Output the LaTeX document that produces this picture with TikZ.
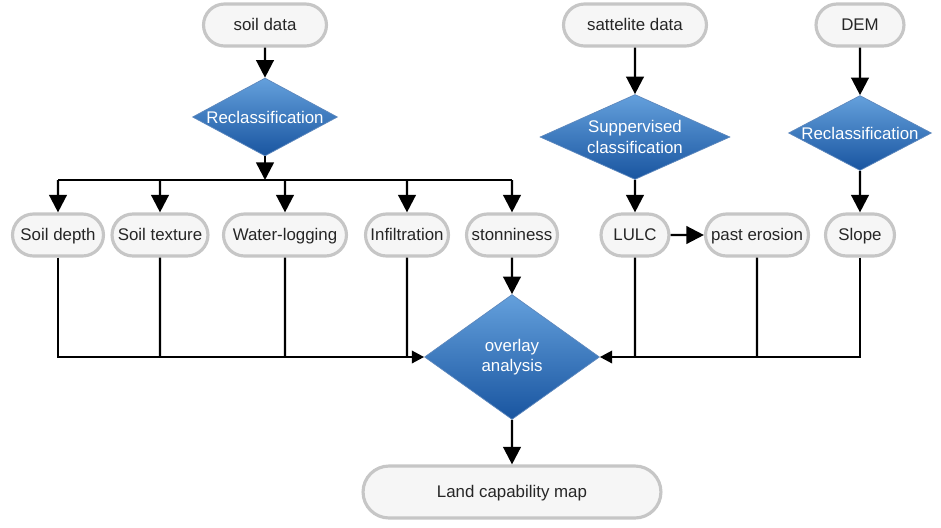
\documentclass[tikz,border=0pt]{standalone}
\usepackage{fontspec}
\setmainfont{Liberation Sans}
\usetikzlibrary{arrows.meta,shapes.geometric,shapes.misc,positioning}

\definecolor{decisiontop}{RGB}{100,160,220}
\definecolor{decisionbot}{RGB}{25,85,160}

\begin{document}
\begin{tikzpicture}[
    x = 0.02cm, y = -0.02cm, % one unit = one pixel of the layout
    > = {Triangle[length=10pt,width=10pt]}, % arrow head style
    line width = 1.4pt, % line style
    font = \fontsize{9.6}{11.5}\selectfont
    ]

    \tikzset{
    pill/.style = {rounded rectangle, draw = gray!45, line width = 1.8pt,
                   fill = gray!7, text = black!85, minimum height = 0.84cm, inner xsep = 2pt,
                   text height = 1.6ex, text depth = 0.45ex},
    decision/.style = {diamond, top color = decisiontop, bottom color = decisionbot,
                       draw = decisionbot!70, line width = 0.4pt, text = white, align = center, inner sep = -0.8pt},
    small tip/.style = {-{Triangle[length=7pt,width=7pt]}}
    }

    \useasboundingbox (0,0) rectangle (941,528);

    % sources
    \node[pill, minimum width = 2.6cm] (soil) at (265,25) {soil data};
    \node[pill, minimum width = 3cm] (sat) at (635,25) {sattelite data};
    \node[pill, minimum width = 1.9cm] (dem) at (860,25) {DEM};

    % processing
    \node[decision, aspect = 1.86, minimum width = 2.9cm, minimum height = 1.56cm] (reclL) at (265,117) {Reclassification};
    \node[decision, aspect = 2.24, minimum width = 3.8cm, minimum height = 1.7cm] (sup) at (635,137) {Suppervised\\classification};
    \node[decision, aspect = 1.9, minimum width = 2.86cm, minimum height = 1.5cm] (reclR) at (860,133) {Reclassification};

    % layers
    \node[pill, minimum width = 1.96cm] (depth) at (58,235) {Soil depth};
    \node[pill, minimum width = 1.88cm] (texture) at (160,235) {Soil texture};
    \node[pill, minimum width = 2.6cm] (water) at (285,235) {Water-logging};
    \node[pill, minimum width = 1.8cm] (infil) at (407,235) {Infiltration};
    \node[pill, minimum width = 1.96cm] (stone) at (512,235) {stonniness};
    \node[pill, minimum width = 1.5cm] (lulc) at (635,235) {LULC};
    \node[pill, minimum width = 2.2cm] (erosion) at (757,235) {past erosion};
    \node[pill, minimum width = 1.52cm] (slope) at (860,235) {Slope};

    % result
    \node[decision, aspect = 1.4, minimum width = 3.5cm, minimum height = 2.5cm] (overlay) at (512,357) {overlay\\analysis};
    \node[pill, minimum width = 6.1cm, minimum height = 1.04cm] (land) at (512,492) {Land capability map};

    \coordinate (bus) at (265,180);

    \draw[->] (soil) -- (reclL);
    \draw[->] (reclL) -- (bus);
    \draw (depth.north |- bus) -- (stone.north |- bus);
    \foreach \n in {depth,texture,water,infil,stone}
        \draw[->] (\n.north |- bus) -- (\n);

    \draw[->] (sat) -- (sup);
    \draw[->] (sup) -- (lulc);
    \draw[->] (lulc) -- (erosion);
    \draw[->] (dem) -- (reclR);
    \draw[->] (reclR) -- (slope);

    \draw[->] (stone) -- (overlay);
    \draw[small tip] (depth) |- (overlay);
    \foreach \n in {texture,water,infil}
        \draw (\n) -- (\n |- overlay);
    \draw[small tip] (slope) |- (overlay);
    \foreach \n in {lulc,erosion}
        \draw (\n) -- (\n |- overlay);

    \draw[->] (overlay) -- (land);
\end{tikzpicture}
\end{document}
